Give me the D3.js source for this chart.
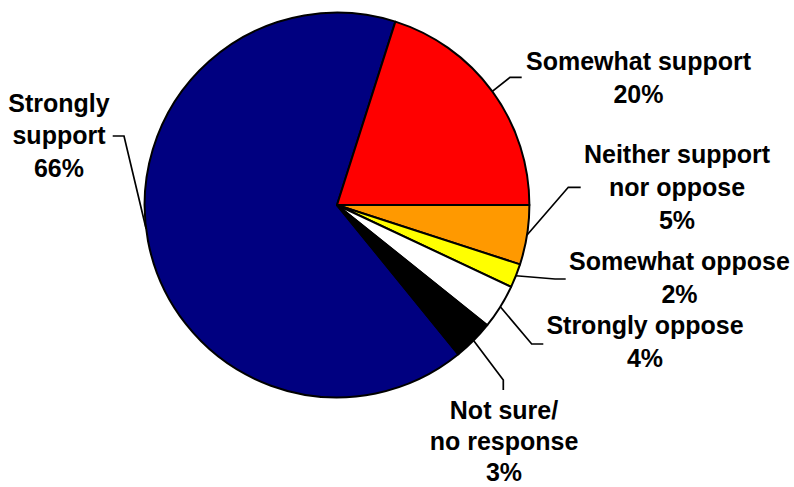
<!DOCTYPE html>
<html>
<head>
<meta charset="utf-8">
<script src="https://cdn.jsdelivr.net/npm/d3@7"></script>
<style>
  html, body { margin: 0; padding: 0; background: #fff; }
  svg { display: block; }
</style>
</head>
<body>
<svg id="chart" width="794" height="487"></svg>
<script>
// ---- Data ----
const categories = ["Strongly support", "Somewhat support", "Neither support nor oppose", "Somewhat oppose", "Strongly oppose", "Not sure/ no response"];
const values = [65.8, 20.1, 5.0, 2.0, 3.75, 3.4];
const valueLabels = ["66%", "20%", "5%", "2%", "4%", "3%"];
const labelLines = [
  ["Strongly", "support"],
  ["Somewhat support"],
  ["Neither support", "nor oppose"],
  ["Somewhat oppose"],
  ["Strongly oppose"],
  ["Not sure/", "no response"]
];
const colors = ["#000080", "#FF0000", "#FF9900", "#FFFF00", "#FFFFFF", "#000000"];

// ---- Layout (positions for labels and leader lines) ----
const cx = 337, cy = 205, R = 192.4;
const startDeg = 140.9;
const labelLayout = [
  { x: 59,  y: 111.5, lh: 32.6, elbow: [124, 136],   end: [112.7, 136], anchorDeg: 263 },
  { x: 638.5, y: 69.5, lh: 33, elbow: [510, 77.3],  end: [521.7, 77.3] },
  { x: 677, y: 163,   lh: 33, elbow: [568.3, 187.3], end: [580.7, 187.3] },
  { x: 679.5, y: 270, lh: 33, elbow: [555, 279],   end: [565.7, 279] },
  { x: 645, y: 334,   lh: 33, elbow: [531.7, 344], end: [543.3, 344] },
  { x: 504, y: 418.5, lh: 31.3, elbow: [503.3, 380], end: [503.3, 390] }
];

const data = categories.map((c, i) => ({ name: c, value: values[i], color: colors[i], lines: labelLines[i].concat([valueLabels[i]]), layout: labelLayout[i] }));

const svg = d3.select("#chart");
const g = svg.append("g").attr("transform", `translate(${cx},${cy})`);

const start = startDeg * Math.PI / 180;
const pie = d3.pie().sort(null).value(d => d.value).startAngle(start).endAngle(start + 2 * Math.PI);
const arc = d3.arc().innerRadius(0).outerRadius(R);
const arcs = pie(data);

g.selectAll("path.slice")
  .data(arcs)
  .join("path")
  .attr("class", "slice")
  .attr("d", arc)
  .attr("fill", d => d.data.color)
  .attr("stroke", "#000")
  .attr("stroke-width", 2)
  .attr("stroke-linejoin", "round");

// Leader lines
const lineGen = d3.line();
arcs.forEach(a => {
  const L = a.data.layout;
  const ang = L.anchorDeg !== undefined ? L.anchorDeg * Math.PI / 180 : (a.startAngle + a.endAngle) / 2;
  const ax = cx + R * Math.sin(ang);
  const ay = cy - R * Math.cos(ang);
  svg.append("path")
    .attr("d", lineGen([[ax, ay], L.elbow, L.end]))
    .attr("fill", "none")
    .attr("stroke", "#000")
    .attr("stroke-width", 1.7);
});

// Labels
arcs.forEach(a => {
  const L = a.data.layout;
  const t = svg.append("text")
    .attr("x", L.x)
    .attr("y", L.y)
    .attr("text-anchor", "middle")
    .attr("font-family", "'Liberation Sans', Arial, sans-serif")
    .attr("font-weight", "bold")
    .attr("font-size", 25)
    .attr("fill", "#000");
  a.data.lines.forEach((ln, i) => {
    t.append("tspan").attr("x", L.x).attr("y", L.y + i * L.lh).text(ln);
  });
});
</script>
</body>
</html>
